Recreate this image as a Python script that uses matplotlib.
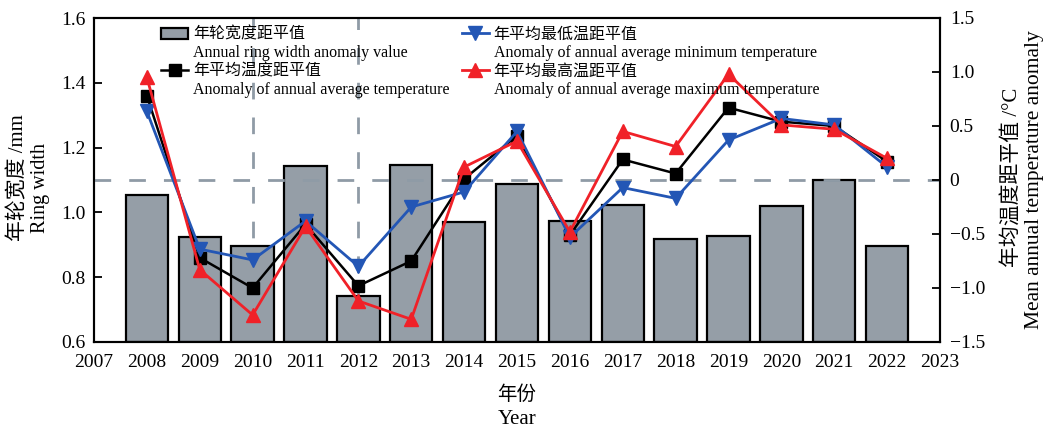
import numpy as np
import matplotlib
matplotlib.use("Agg")
import matplotlib.pyplot as plt
from matplotlib.lines import Line2D
from matplotlib.patches import Rectangle

plt.rcParams['font.family'] = ['Liberation Serif', 'Noto Sans CJK SC']
plt.rcParams['axes.unicode_minus'] = True

years = [2008, 2009, 2010, 2011, 2012, 2013, 2014, 2015,
         2016, 2017, 2018, 2019, 2020, 2021, 2022]
ring_width = [1.055, 0.924, 0.895, 1.143, 0.742, 1.145, 0.969, 1.088,
              0.975, 1.022, 0.918, 0.928, 1.019, 1.099, 0.895]
t_mean = [0.78, -0.72, -1.00, -0.41, -0.98, -0.75, 0.01, 0.41,
          -0.51, 0.19, 0.06, 0.67, 0.54, 0.50, 0.17]
t_min = [0.635, -0.64, -0.74, -0.38, -0.80, -0.25, -0.11, 0.45,
         -0.53, -0.07, -0.17, 0.37, 0.57, 0.51, 0.12]
t_max = [0.95, -0.83, -1.25, -0.43, -1.12, -1.29, 0.12, 0.36,
         -0.48, 0.45, 0.31, 0.98, 0.51, 0.47, 0.20]

xticks = list(range(2007, 2024))
left_ticks = [0.6, 0.8, 1.0, 1.2, 1.4, 1.6]
right_ticks = [-1.5, -1.0, -0.5, 0, 0.5, 1.0, 1.5]
right_labels = ['\u22121.5', '\u22121.0', '\u22120.5', '0', '0.5', '1.0', '1.5']

bar_color = '#959ea7'
dash_color = '#8f9ba6'
blue = '#2356b5'
red = '#f02128'
dash = (0, (6, 6.5))

W, H = 1046, 428
fig = plt.figure(figsize=(W / 100, H / 100), dpi=100)
ax = fig.add_axes([94/W, 1-342/H, (940-94)/W, (342-18)/H])
ax2 = ax.twinx()

for xv in [2010, 2012]:
    ax.axvline(xv, color=dash_color, lw=2, ls=dash, zorder=0)
ax.bar(years, np.array(ring_width) - 0.6, bottom=0.6, width=0.8,
       color=bar_color, edgecolor='black', linewidth=1.6, zorder=2)
ax.set_xlim(2007, 2023)
ax.set_ylim(0.6, 1.6)
ax.set_xticks(xticks)
ax.set_yticks(left_ticks)
ax.set_yticklabels(['%.1f' % v for v in left_ticks])

ax2.axhline(0, color=dash_color, lw=2, ls=dash, zorder=1)
ax2.plot(years, t_mean, color='black', lw=1.8, marker='s', ms=8, zorder=3)
ax2.plot(years, t_min, color=blue, lw=2, marker='v', ms=10, zorder=4)
ax2.plot(years, t_max, color=red, lw=2, marker='^', ms=10, zorder=5)
ax2.set_ylim(-1.5, 1.5)
ax2.set_yticks(right_ticks)
ax2.set_yticklabels(right_labels)

for a in (ax, ax2):
    for s in a.spines.values():
        s.set_linewidth(1.5)
ax.tick_params(axis='y', direction='in', length=6, width=1.3, labelsize=14, pad=6)
ax.tick_params(axis='x', length=0, labelsize=14, pad=8.5)
ax2.tick_params(axis='y', direction='in', length=6, width=1.3, labelsize=14, pad=7)

# axis titles, two lines each (Chinese / English)
fig.text(517/W, 1-395/H, '年份', fontsize=14, ha='center', va='center')
fig.text(517/W, 1-420/H, 'Year', fontsize=15, ha='center', va='center')
fig.text(18/W, 1-178/H, '年轮宽度 /mm', fontsize=15, rotation=90, ha='center', va='center')
fig.text(40/W, 1-188/H, 'Ring width', fontsize=14.5, rotation=90, ha='center', va='center')
fig.text(1012/W, 1-177/H, '年均温度距平值 /°C', fontsize=15, rotation=90, ha='center', va='center')
fig.text(1035/W, 1-180/H, 'Mean annual temperature anomaly', fontsize=15.5, rotation=90,
         ha='center', va='center')

blank = Rectangle((0, 0), 1, 1, fill=False, edgecolor='none', visible=False)
handles = [
    Rectangle((0, 0), 1, 1, facecolor=bar_color, edgecolor='black', linewidth=1.6),
    blank,
    Line2D([], [], color='black', lw=1.8, marker='s', ms=8),
    blank,
    Line2D([], [], color=blue, lw=2, marker='v', ms=10),
    blank,
    Line2D([], [], color=red, lw=2, marker='^', ms=10),
    blank,
]
labels = [
    '年轮宽度距平值', 'Annual ring width anomaly value',
    '年平均温度距平值', 'Anomaly of annual average temperature',
    '年平均最低温距平值', 'Anomaly of annual average minimum temperature',
    '年平均最高温距平值', 'Anomaly of annual average maximum temperature',
]
leg = ax2.legend(handles, labels, ncol=2, loc='upper left',
                 bbox_to_anchor=(0.072, 0.992), frameon=False, fontsize=11.5,
                 handlelength=1.7, handletextpad=0.3, labelspacing=0.14,
                 columnspacing=0.75, borderaxespad=0)

fig.savefig('out.png', dpi=100)
